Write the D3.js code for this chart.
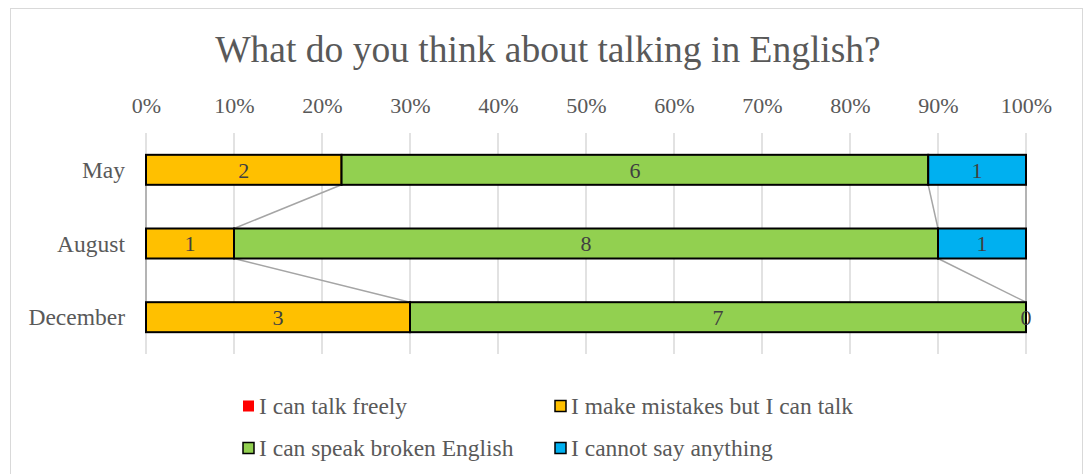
<!DOCTYPE html>
<html>
<head>
<meta charset="utf-8">
<script src="https://cdn.jsdelivr.net/npm/d3@7"></script>
<style>
  html, body { margin: 0; padding: 0; background: #fff; }
  svg { display: block; font-family: "Liberation Serif", "Times New Roman", serif; }
</style>
</head>
<body>
<svg id="chart" width="1089" height="474"></svg>
<script>
// Survey answers per month
const months = ["May", "August", "December"];
const seriesNames = [
  "I can talk freely",
  "I make mistakes but I can talk",
  "I can speak broken English",
  "I cannot say anything"
];
const talkFreely   = [0, 0, 0];
const makeMistakes = [2, 1, 3];
const brokenEnglish = [6, 8, 7];
const cannotSay    = [1, 1, 0];
const tickValues = [0, 0.1, 0.2, 0.3, 0.4, 0.5, 0.6, 0.7, 0.8, 0.9, 1.0];
const seriesColors = ["#FF0000", "#FFC000", "#92D050", "#00B0F0"];
const labelled = [false, true, true, true];
const outlined = [false, true, true, true];

const svg = d3.select("#chart");

// chart frame
svg.append("rect")
  .attr("x", 10.5).attr("y", 8.5)
  .attr("width", 1072).attr("height", 480)
  .attr("fill", "#fff").attr("stroke", "#D9D9D9").attr("stroke-width", 1);

const plot = { left: 146, right: 1026, top: 133, bottom: 354 };

const x = d3.scaleLinear().domain([0, 1]).range([plot.left, plot.right]);
const y = d3.scaleBand().domain(months).range([plot.top, plot.bottom]).paddingInner(0.593).paddingOuter(0.296);

// build normalized stack
const rows = months.map((m, i) => ({
  month: m,
  s0: talkFreely[i], s1: makeMistakes[i], s2: brokenEnglish[i], s3: cannotSay[i]
}));
const keys = ["s0", "s1", "s2", "s3"];
const stack = d3.stack().keys(keys).offset(d3.stackOffsetExpand);
const layers = stack(rows);

// title
svg.append("text")
  .attr("x", 548).attr("y", 62)
  .attr("text-anchor", "middle")
  .attr("font-size", 37.5)
  .attr("fill", "#595959")
  .text("What do you think about talking in English?");

// gridlines
svg.append("g")
  .selectAll("line")
  .data(tickValues)
  .join("line")
  .attr("x1", d => x(d)).attr("x2", d => x(d))
  .attr("y1", plot.top).attr("y2", plot.bottom)
  .attr("stroke", "#D9D9D9").attr("stroke-width", 1.5);

// top axis labels
const axis = d3.axisTop(x).tickValues(tickValues).tickFormat(d3.format(".0%")).tickSize(0).tickPadding(0);
const axG = svg.append("g").attr("transform", `translate(0,113)`).call(axis);
axG.select(".domain").remove();
axG.selectAll("text")
  .attr("font-size", 22)
  .attr("font-family", "Liberation Serif, Times New Roman, serif")
  .attr("fill", "#595959")
  .attr("dy", 0);

// category labels
const yAxis = d3.axisLeft(y).tickSize(0).tickPadding(0);
const yG = svg.append("g").attr("transform", `translate(125,0)`).call(yAxis);
yG.select(".domain").remove();
yG.selectAll("text")
  .attr("font-size", 23.5)
  .attr("font-family", "Liberation Serif, Times New Roman, serif")
  .attr("fill", "#595959")
  .attr("dy", "0.34em");

// series lines between consecutive bars
const slG = svg.append("g");
layers.forEach(layer => {
  for (let i = 0; i < months.length - 1; i++) {
    const a = layer[i], b = layer[i + 1];
    slG.append("line")
      .attr("x1", x(a[1])).attr("y1", y(months[i]) + y.bandwidth())
      .attr("x2", x(b[1])).attr("y2", y(months[i + 1]))
      .attr("stroke", "#A5A5A5").attr("stroke-width", 1.5);
  }
});

// bars
layers.forEach((layer, si) => {
  svg.append("g")
    .selectAll("rect")
    .data(layer)
    .join("rect")
    .attr("x", d => x(d[0]))
    .attr("y", d => y(d.data.month))
    .attr("width", d => x(d[1]) - x(d[0]))
    .attr("height", y.bandwidth())
    .attr("fill", seriesColors[si])
    .attr("stroke", d => (outlined[si] && d[1] > d[0]) ? "#000" : "none")
    .attr("stroke-width", 2);
});

// data labels
layers.forEach((layer, si) => {
  if (!labelled[si]) return;
  svg.append("g")
    .selectAll("text")
    .data(layer)
    .join("text")
    .attr("x", d => (x(d[0]) + x(d[1])) / 2)
    .attr("y", d => y(d.data.month) + y.bandwidth() / 2)
    .attr("dy", "0.35em")
    .attr("text-anchor", "middle")
    .attr("font-size", 22)
    .attr("fill", "#404040")
    .text(d => d.data[keys[si]]);
});

// legend
const legendPos = [
  { x: 243, y: 406 }, { x: 555, y: 406 },
  { x: 243, y: 448 }, { x: 555, y: 448 }
];
const lg = svg.append("g");
seriesNames.forEach((name, i) => {
  const p = legendPos[i];
  lg.append("rect")
    .attr("x", p.x).attr("y", p.y - 5.5)
    .attr("width", 11).attr("height", 11)
    .attr("fill", seriesColors[i])
    .attr("stroke", outlined[i] ? "#000" : "none")
    .attr("stroke-width", 1.5);
  lg.append("text")
    .attr("x", p.x + 16).attr("y", p.y)
    .attr("dy", "0.34em")
    .attr("font-size", 23.5)
    .attr("fill", "#595959")
    .text(name);
});
</script>
</body>
</html>
